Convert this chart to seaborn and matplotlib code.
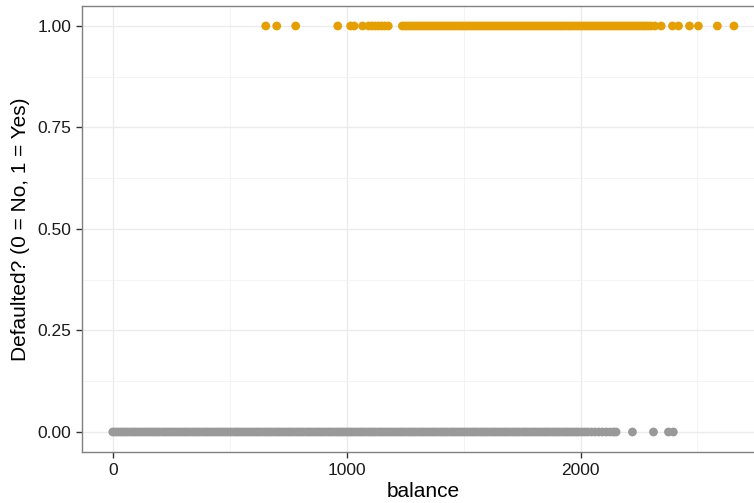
import matplotlib
matplotlib.use("Agg")
import matplotlib.pyplot as plt
from matplotlib.ticker import FixedLocator
import seaborn as sns
import pandas as pd

# Card balances of customers who did not default (plotted at 0)
balance_no = [
    0, 10, 21, 33, 44, 54, 65, 77, 88, 98,
    109, 121, 132, 142, 153, 165, 176, 186, 197, 209,
    220, 230, 241, 253, 264, 274, 285, 297, 308, 318,
    329, 341, 352, 362, 373, 385, 396, 406, 417, 429,
    440, 450, 461, 473, 484, 494, 505, 517, 528, 538,
    549, 561, 572, 582, 593, 605, 616, 626, 637, 649,
    660, 670, 681, 693, 704, 714, 725, 737, 748, 758,
    769, 781, 792, 802, 813, 825, 836, 846, 857, 869,
    880, 890, 901, 913, 924, 934, 945, 957, 968, 978,
    989, 1001, 1012, 1022, 1033, 1045, 1056, 1066, 1077, 1089,
    1100, 1110, 1121, 1133, 1144, 1154, 1165, 1177, 1188, 1198,
    1209, 1221, 1232, 1242, 1253, 1265, 1276, 1286, 1297, 1309,
    1320, 1330, 1341, 1353, 1364, 1374, 1385, 1397, 1408, 1418,
    1429, 1441, 1452, 1462, 1473, 1485, 1496, 1506, 1517, 1529,
    1540, 1550, 1561, 1573, 1584, 1594, 1605, 1617, 1628, 1638,
    1649, 1661, 1672, 1682, 1693, 1705, 1716, 1726, 1737, 1749,
    1760, 1770, 1781, 1793, 1804, 1814, 1825, 1837, 1848, 1858,
    1869, 1881, 1892, 1902, 1913, 1925, 1936, 1946, 1957, 1969,
    1980, 1990, 2004, 2017, 2030, 2046, 2061, 2078, 2093, 2110,
    2126, 2141, 2152, 2222, 2312, 2376, 2397,
]

# Card balances of customers who defaulted (plotted at 1)
balance_yes = [
    654, 701, 782, 962, 1017, 1032, 1068, 1094, 1108, 1121, 1135, 1149, 1163,
    1178,
    1238, 1249, 1260, 1271, 1283, 1294, 1305, 1316, 1328, 1339, 1351, 1362,
    1373, 1384, 1396, 1407, 1418, 1430, 1441, 1452, 1463, 1475, 1486, 1497,
    1509, 1520, 1531, 1542, 1554, 1565, 1576, 1588, 1599, 1610, 1621, 1633,
    1644, 1655, 1667, 1678, 1689, 1700, 1712, 1723, 1734, 1746, 1757, 1768,
    1779, 1791, 1802, 1813, 1825, 1836, 1847, 1858, 1870, 1881, 1892, 1904,
    1915, 1926, 1937, 1949, 1960, 1971, 1983, 1994, 2005, 2016, 2028, 2039,
    2050, 2062, 2073, 2084, 2095, 2107, 2118, 2129, 2141, 2152, 2163, 2174,
    2186, 2197, 2208, 2220, 2231, 2242, 2253, 2265, 2276, 2288, 2300,
    2318, 2345, 2393, 2419, 2466, 2504, 2585, 2656,
]

x_ticks = [0, 1000, 2000]
y_ticks = [0.0, 0.25, 0.5, 0.75, 1.0]
y_tick_labels = ["0.00", "0.25", "0.50", "0.75", "1.00"]

df = pd.DataFrame({
    "balance": balance_no + balance_yes,
    "default": [0] * len(balance_no) + [1] * len(balance_yes),
})
df["status"] = df["default"].map({0: "No", 1: "Yes"})

sns.set_theme(style="white")
plt.rcParams["font.family"] = ["Liberation Sans", "DejaVu Sans"]

fig = plt.figure(figsize=(7.54, 5.03), dpi=100)
ax = fig.add_axes([0.1084, 0.1008, 0.9062, 0.8879])

sns.scatterplot(
    data=df, x="balance", y="default", hue="status",
    palette={"No": "#999999", "Yes": "#E69F00"},
    s=40, linewidth=0, alpha=1, legend=False, ax=ax, zorder=3,
)

lo, hi = min(df["balance"]), max(df["balance"])
pad = (hi - lo) * 0.05
ax.set_xlim(lo - pad, hi + pad)
ax.set_ylim(-0.05, 1.05)

ax.set_xticks(x_ticks)
ax.set_xticklabels([str(t) for t in x_ticks])
ax.set_yticks(y_ticks)
ax.set_yticklabels(y_tick_labels)
ax.xaxis.set_minor_locator(FixedLocator([500, 1500, 2500]))
ax.yaxis.set_minor_locator(FixedLocator([0.125, 0.375, 0.625, 0.875]))

ax.grid(True, which="major", color="#EBEBEB", linewidth=1.0, zorder=0)
ax.grid(True, which="minor", color="#F2F2F2", linewidth=0.6, zorder=0)
ax.set_axisbelow(True)

for side in ["left", "bottom", "top", "right"]:
    ax.spines[side].set_visible(True)
    ax.spines[side].set_color("#808080")
    ax.spines[side].set_linewidth(1.0)

ax.tick_params(axis="both", which="major", length=4.5, width=1.0,
               color="#333333", labelsize=12.5, labelcolor="#1a1a1a", pad=3,
               bottom=True, left=True)
ax.tick_params(axis="both", which="minor", length=0)

ax.set_xlabel("balance", fontsize=15, color="black", labelpad=3)
ax.set_ylabel("Defaulted? (0 = No, 1 = Yes)", fontsize=15, color="black",
              labelpad=5)

fig.savefig("out.png", dpi=100)
